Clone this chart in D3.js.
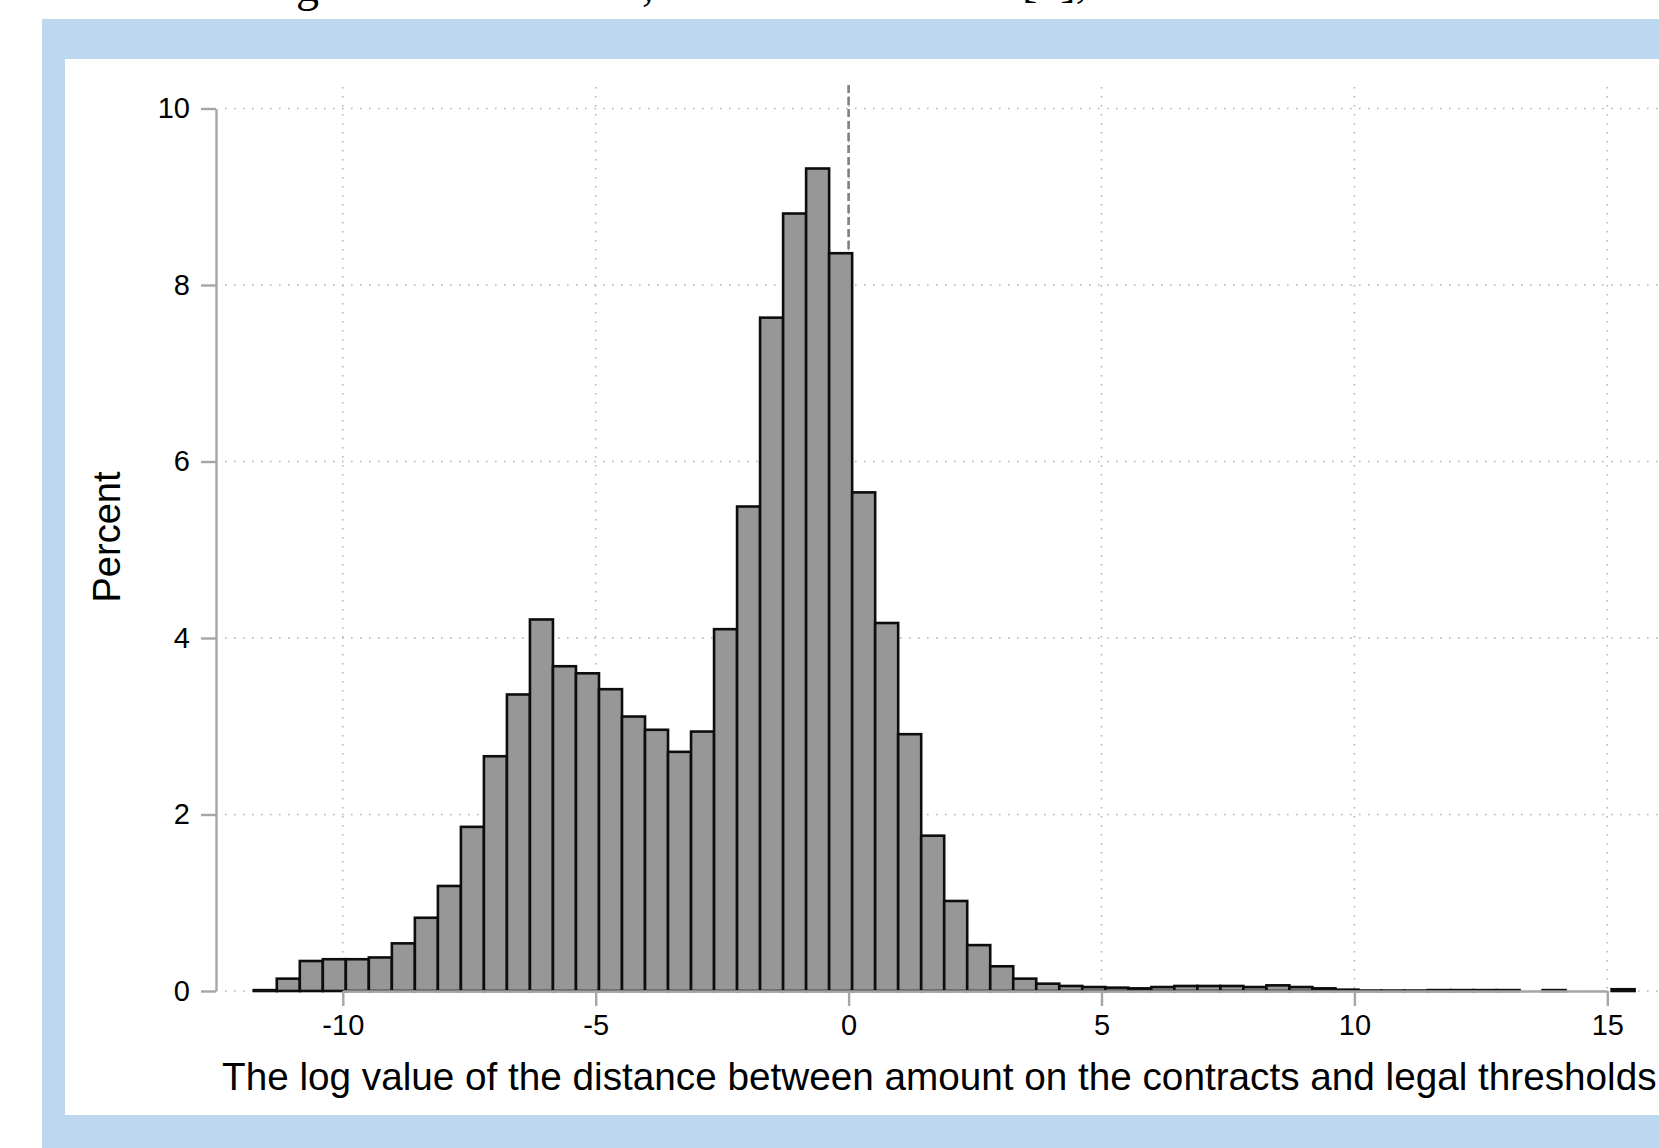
<!DOCTYPE html>
<html lang="en">
<head>
  <meta charset="UTF-8">
  <title>Log distance histogram</title>
  <script src="https://d3js.org/d3.v7.min.js"></script>
  <style>
    body { margin: 0; background: #fff; }
    svg { display: block; font-family: "Liberation Sans", Arial, sans-serif; }
  </style>
</head>
<body>
  <div id="chart"></div>

  <script>
  // histogram bins: left edge of first bin and common bin width (log distance units)
  const binStart = -11.76;
  const binWidth = 0.455;

  // percent in each bin
  const percents = [
    0.01, 0.14, 0.34, 0.36, 0.36, 0.38, 0.54, 0.83, 1.19, 1.86,
    2.66, 3.36, 4.21, 3.68, 3.60, 3.42, 3.11, 2.96, 2.71, 2.94,
    4.10, 5.49, 7.63, 8.81, 9.32, 8.36, 5.65, 4.17, 2.91, 1.76,
    1.02, 0.52, 0.28, 0.14, 0.083, 0.057, 0.045, 0.038, 0.03, 0.045,
    0.057, 0.057, 0.057, 0.045, 0.064, 0.045, 0.03, 0.015, 0.005, 0.005,
    0.005, 0.01, 0.01, 0.01, 0.01, 0, 0.01, 0, 0, 0.02
  ];

  const xTicks = [-10, -5, 0, 5, 10, 15];
  const yTicks = [0, 2, 4, 6, 8, 10];
  const xTitle = "The log value of the distance between amount on the contracts and legal thresholds";
  const yTitle = "Percent";
  const refLine = 0;

  const W = 1659, H = 1148;

  const svg = d3.select("#chart").append("svg")
    .attr("width", W).attr("height", H);

  // page fragments above the figure (cut off at the top, as in the source)
  const frag = svg.append("g")
    .attr("font-family", "'Liberation Serif', 'DejaVu Serif', serif")
    .attr("font-size", 46).attr("fill", "#000");
  frag.append("text").attr("x", 296).attr("y", 1).text("g");
  frag.append("text").attr("x", 642).attr("y", 0).text(",");
  frag.append("text").attr("x", 1022).attr("y", -3).text("[9],");

  // blue frame and white panel
  svg.append("rect").attr("x", 42).attr("y", 19)
    .attr("width", W - 42).attr("height", H - 19).attr("fill", "#bdd7ee");
  svg.append("rect").attr("x", 65).attr("y", 59)
    .attr("width", W - 65).attr("height", 1115 - 59).attr("fill", "#fff");

  const x = d3.scaleLinear().domain([-10, 15]).range([342.8, 1607.3]);
  const y = d3.scaleLinear().domain([0, 10]).range([991, 108.5]);

  const gridTop = 87, gridLeft = 225;

  // dotted grid
  svg.append("g").selectAll("line.h")
    .data(yTicks)
    .enter().append("line")
    .attr("x1", gridLeft).attr("x2", W)
    .attr("y1", d => y(d)).attr("y2", d => y(d))
    .attr("stroke", "#b4b4b4").attr("stroke-width", 1.6)
    .attr("stroke-dasharray", "1.6,7.4");

  svg.append("g").selectAll("line.v")
    .data(xTicks)
    .enter().append("line")
    .attr("x1", d => x(d)).attr("x2", d => x(d))
    .attr("y1", gridTop).attr("y2", y(0))
    .attr("stroke", "#b4b4b4").attr("stroke-width", 1.6)
    .attr("stroke-dasharray", "1.6,7.4");

  // dashed reference line at zero
  svg.append("line")
    .attr("x1", x(refLine)).attr("x2", x(refLine))
    .attr("y1", 85).attr("y2", y(0))
    .attr("stroke", "#808080").attr("stroke-width", 2.6)
    .attr("stroke-dasharray", "8,4");

  // bars
  const bins = percents.map((p, i) => ({ x0: binStart + i * binWidth, x1: binStart + (i + 1) * binWidth, p }))
    .filter(d => d.p > 0);

  svg.append("g").selectAll("rect")
    .data(bins)
    .enter().append("rect")
    .attr("x", d => x(d.x0))
    .attr("width", d => x(d.x1) - x(d.x0))
    .attr("y", d => y(d.p))
    .attr("height", d => y(0) - y(d.p))
    .attr("fill", "#979797")
    .attr("stroke", "#0d0d0d")
    .attr("stroke-width", 2.6);

  // axes drawn on top of the bars
  const fmt = d => String(d);

  const yAxis = svg.append("g")
    .attr("transform", "translate(216,0)")
    .call(d3.axisLeft(y).tickValues(yTicks).tickFormat(fmt)
      .tickSize(15).tickSizeOuter(0).tickPadding(11));

  const xAxis = svg.append("g")
    .attr("transform", `translate(0,${y(0)})`)
    .call(d3.axisBottom(x).tickValues(xTicks).tickFormat(fmt)
      .tickSize(15).tickSizeOuter(0).tickPadding(8.5));

  [yAxis, xAxis].forEach(a => {
    a.select(".domain").attr("stroke", "#a6a6a6").attr("stroke-width", 2.4);
    a.selectAll(".tick line").attr("stroke", "#a6a6a6").attr("stroke-width", 2.4);
    a.selectAll(".tick text").attr("fill", "#000")
      .attr("font-size", 29).attr("font-family", "'Liberation Sans', Arial, sans-serif");
  });

  // axis titles
  svg.append("text")
    .attr("x", 222).attr("y", 1090)
    .attr("font-size", 38.7).attr("fill", "#000")
    .text(xTitle);

  svg.append("text")
    .attr("transform", "translate(120,537) rotate(-90)")
    .attr("text-anchor", "middle")
    .attr("font-size", 38).attr("fill", "#000")
    .text(yTitle);
  </script>
</body>
</html>
